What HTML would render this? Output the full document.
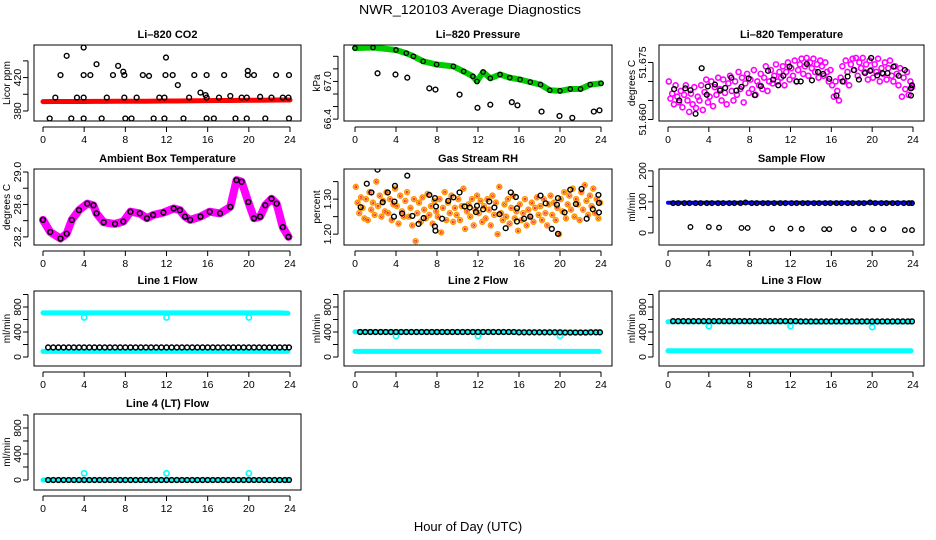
<!DOCTYPE html>
<html><head><meta charset="utf-8"><style>
html,body{margin:0;padding:0;background:#fff;}
svg{display:block;font-family:"Liberation Sans",sans-serif;}
</style></head><body>
<svg id="chart" width="936" height="540" viewBox="0 0 936 540" xmlns="http://www.w3.org/2000/svg">
<text x="470" y="14" text-anchor="middle" font-size="13" textLength="222" lengthAdjust="spacingAndGlyphs">NWR_120103  Average Diagnostics</text>
<text x="468" y="531" text-anchor="middle" font-size="13">Hour of Day (UTC)</text>
</svg>
<script>
// ---------- data ----------
const hourTicks = [0,4,8,12,16,20,24];
const hours25 = [0,1,2,3,4,5,6,7,8,9,10,11,12,13,14,15,16,17,18,19,20,21,22,23,24];
const co2Red = [391.2,391.3,391.3,391.4,391.4,391.5,391.5,391.6,391.6,391.7,391.7,391.8,391.9,392,392.1,392.3,392.4,392.5,392.6,392.7,392.8,392.9,393,393.1,393.2];
const co2Black = [[0.65,371],[1.2,396],[1.7,423],[2.3,446],[2.75,371],[3.3,396],[3.95,396],[3.95,456],[3.95,423],[3.95,371],[4.6,423],[5.2,436],[5.7,371],[6.2,396],[6.8,423],[7.3,434],[7.8,427],[7.9,423],[7.9,396],[8,371],[8.6,371],[9.1,396],[9.7,423],[10.3,422],[10.75,371],[11.3,396],[11.8,396],[11.95,444],[11.9,423],[11.8,371],[12.6,423],[13.1,411],[13.65,371],[14.2,396],[14.7,423],[15.3,402],[15.8,399],[15.9,396],[15.9,423],[15.9,371],[16.6,371],[17.1,396],[17.6,423],[18.2,398],[18.7,371],[19.3,396],[19.8,396],[19.9,428],[19.9,423],[19.8,371],[20.5,423],[21.1,397],[21.6,371],[22.2,396],[22.65,423],[23.3,396],[23.85,396],[23.9,423],[23.9,371]];
const presHours = [0,1.76,4,5,5.7,6.65,7.96,9.6,10.6,11.5,11.9,12.5,13.2,14.15,15.1,16.1,17.1,18.1,19,20,21,22,22.95,24];
const presGreen = [67.53,67.54,67.50,67.45,67.40,67.32,67.27,67.24,67.16,67.08,67.00,67.15,67.05,67.11,67.06,67.03,66.99,66.95,66.86,66.85,66.88,66.88,66.95,66.97];
const presBlack = [[2.2,67.13],[3.95,67.11],[5.1,67.06],[7.25,66.89],[7.85,66.87],[10.2,66.79],[11.95,66.58],[13.2,66.63],[15.3,66.67],[15.85,66.62],[18.2,66.52],[19.95,66.45],[21.2,66.42],[23.3,66.52],[23.85,66.54]];
const tempMagenta = [51.6700,51.6655,51.6668,51.6640,51.6690,51.6660,51.6645,51.6675,51.6632,51.6665,51.6690,51.6650,51.6620,51.6668,51.6640,51.6685,51.6630,51.6660,51.6650,51.6690,51.6625,51.6672,51.6705,51.6645,51.6660,51.6700,51.6635,51.6685,51.6665,51.6710,51.6680,51.6650,51.6705,51.6670,51.6640,51.6695,51.6715,51.6675,51.6650,51.6700,51.6665,51.6725,51.6680,51.6710,51.6645,51.6695,51.6720,51.6670,51.6705,51.6680,51.6730,51.6665,51.6700,51.6690,51.6720,51.6680,51.6710,51.6740,51.6675,51.6700,51.6730,51.6695,51.6715,51.6745,51.6700,51.6725,51.6710,51.6740,51.6690,51.6725,51.6750,51.6705,51.6735,51.6715,51.6755,51.6700,51.6730,51.6745,51.6760,51.6720,51.6740,51.6762,51.6715,51.6750,51.6735,51.6760,51.6725,51.6745,51.6710,51.6755,51.6740,51.6715,51.6750,51.6725,51.6700,51.6730,51.6690,51.6660,51.6700,51.6675,51.6650,51.6710,51.6740,51.6700,51.6755,51.6725,51.6690,51.6745,51.6760,51.6730,51.6762,51.6715,51.6750,51.6735,51.6762,51.6725,51.6745,51.6705,51.6755,51.6730,51.6710,51.6745,51.6725,51.6760,51.6700,51.6735,51.6720,51.6750,51.6705,51.6735,51.6755,51.6715,51.6700,51.6740,51.6720,51.6690,51.6735,51.6660,51.6710,51.6680,51.6725,51.6665,51.6700,51.6685];
const tempBlack = [[0.6,51.6680],[1.1,51.6650],[1.7,51.6682],[2.2,51.6677],[2.7,51.6615],[3.3,51.6735],[3.8,51.6665],[3.9,51.6687],[4.6,51.6692],[5.1,51.6676],[5.6,51.6683],[6.2,51.6710],[6.7,51.6676],[7.2,51.6686],[7.9,51.6708],[8.5,51.6664],[9.1,51.6688],[9.8,51.6728],[10.3,51.6705],[10.8,51.6690],[11.3,51.6715],[11.9,51.6739],[12.6,51.6700],[13.0,51.6700],[13.6,51.6746],[14.1,51.6703],[14.7,51.6725],[15.2,51.6720],[15.8,51.6707],[16.5,51.6663],[17.1,51.6700],[17.6,51.6713],[18.2,51.6730],[18.7,51.6705],[19.3,51.6722],[19.8,51.6728],[19.9,51.6762],[20.5,51.6716],[21.0,51.6722],[21.5,51.6722],[22.1,51.6739],[22.6,51.6715],[23.2,51.6730],[23.8,51.6682],[23.8,51.6663],[23.9,51.6690]];
const ambHours = [0,0.7,1.7,2.3,2.8,3.5,4.3,4.9,5.2,5.9,7,7.8,8.5,9.4,10.1,10.7,11.7,12.7,13.3,13.8,14.3,15.3,16.2,17.2,18.2,18.8,19.3,19.95,20.5,21.1,21.6,22.2,22.7,23.3,23.85];
const ambTemp = [28.41,28.26,28.18,28.24,28.41,28.53,28.61,28.59,28.49,28.38,28.36,28.39,28.51,28.49,28.43,28.47,28.50,28.55,28.53,28.45,28.41,28.45,28.51,28.49,28.57,28.90,28.88,28.63,28.43,28.45,28.59,28.67,28.61,28.32,28.20];
const rhCloud = [1.335,1.290,1.260,1.305,1.275,1.245,1.300,1.240,1.320,1.270,1.290,1.255,1.350,1.280,1.310,1.250,1.295,1.265,1.320,1.260,1.300,1.240,1.285,1.330,1.280,1.230,1.310,1.265,1.250,1.295,1.320,1.250,1.275,1.225,1.300,1.180,1.260,1.290,1.235,1.305,1.270,1.245,1.315,1.255,1.280,1.230,1.295,1.265,1.250,1.300,1.205,1.275,1.320,1.240,1.290,1.260,1.310,1.235,1.275,1.255,1.300,1.240,1.280,1.330,1.215,1.265,1.285,1.250,1.300,1.225,1.270,1.310,1.260,1.295,1.235,1.280,1.245,1.300,1.270,1.225,1.310,1.255,1.290,1.200,1.335,1.260,1.240,1.285,1.250,1.300,1.230,1.275,1.310,1.245,1.265,1.210,1.285,1.240,1.260,1.300,1.225,1.270,1.250,1.290,1.235,1.275,1.305,1.255,1.280,1.240,1.300,1.260,1.225,1.285,1.310,1.255,1.290,1.240,1.275,1.200,1.300,1.265,1.320,1.245,1.285,1.310,1.270,1.330,1.250,1.300,1.285,1.240,1.320,1.270,1.340,1.295,1.255,1.310,1.280,1.330,1.260,1.300,1.245,1.290];
const rhBlack = [[0.55,1.277],[1.15,1.344],[1.6,1.319],[2.2,1.384],[2.7,1.291],[3.2,1.319],[3.85,1.293],[3.9,1.338],[3.8,1.250],[4.6,1.259],[5.1,1.367],[5.6,1.252],[6.2,1.229],[6.7,1.246],[7.25,1.312],[7.8,1.303],[7.9,1.279],[7.8,1.222],[7.85,1.210],[8.5,1.244],[9.1,1.295],[9.6,1.305],[10.2,1.319],[10.7,1.279],[11.2,1.276],[11.8,1.263],[11.9,1.281],[12.5,1.271],[13.1,1.293],[13.6,1.276],[14.1,1.257],[14.7,1.217],[15.2,1.319],[15.7,1.306],[15.8,1.274],[15.8,1.236],[16.5,1.244],[17.1,1.250],[18.1,1.310],[18.6,1.288],[19.2,1.215],[19.7,1.284],[19.8,1.303],[19.8,1.201],[20.45,1.262],[21.0,1.327],[21.55,1.286],[22.1,1.329],[22.6,1.244],[23.2,1.271],[23.75,1.312],[23.8,1.289],[23.8,1.262]];
const sampleBlue = [97,97,97,97,97,97,97,97,97,97,97,97,97,97,97,97,97,97,97,97,97,97,97,97,97];
const sampleBlack = [[0.5,96],[1.0,96],[1.6,96],[2.1,96],[2.7,96],[3.2,96],[3.8,96],[4.3,96],[4.9,96],[5.4,96],[6.0,96],[6.5,96],[7.1,96],[7.6,98],[8.2,96],[8.7,96],[9.3,96],[9.8,96],[10.4,96],[11.0,96],[11.5,96],[12.1,96],[12.6,96],[13.2,96],[13.7,96],[14.3,96],[14.8,96],[15.4,96],[15.9,96],[16.5,96],[17.0,96],[17.6,96],[18.1,96],[18.7,96],[19.2,96],[19.8,98],[20.3,96],[20.9,96],[21.4,96],[22.0,96],[22.5,96],[23.1,96],[23.6,96],[23.9,96],[2.2,19],[4.0,19],[5.0,17],[7.2,16],[7.8,16],[10.2,14],[12.0,14],[13.1,13],[15.3,12],[15.8,12],[18.2,12],[20.0,12],[21.1,12],[23.2,9],[23.9,9]];
const flowHours = [0.5,1,1.5,2,2.5,3,3.5,4,4.5,5,5.5,6,6.5,7,7.5,8,8.5,9,9.5,10,10.5,11,11.5,12,12.5,13,13.5,14,14.5,15,15.5,16,16.5,17,17.5,18,18.5,19,19.5,20,20.5,21,21.5,22,22.5,23,23.5,24];
const dipHours = [4,12,20];
const line1Black = [153,153,153,153,153,153,153,153,153,153,153,153,153,153,153,153,153,153,153,153,153,153,153,153,153,153,153,153,153,153,153,153,153,153,153,153,153,153,153,153,153,153,153,153,153,153,153,153];
const line1CyanHigh = [705,705,705,705,705,705,705,705,705,705,705,705,705,705,705,705,705,705,705,705,705,705,705,705,700];
const line1CyanLow = [90,90,90,90,90,90,90,90,90,90,90,90,90,90,90,90,90,90,90,90,90,90,90,90,90];
const line1Dips = [632,632,632];
const line2Black = [400,400,400,400,400,400,400,400,400,400,400,400,400,400,400,400,400,400,400,400,400,400,400,400,400,400,400,400,400,400,400,395,395,395,395,395,395,395,395,395,392,392,392,392,392,395,395,395];
const line2CyanHigh = [405,403,403,403,403,403,403,403,403,403,403,403,403,403,400,400,400,400,398,398,398,398,398,398,400];
const line2CyanLow = [90,90,90,90,90,90,90,90,90,90,90,90,90,90,90,90,90,90,90,90,90,90,90,90,90];
const line2Dips = [337,337,337];
const line3Black = [574,574,574,574,574,574,574,574,574,574,574,574,574,574,574,574,574,574,574,574,574,574,574,574,574,570,570,570,570,570,570,570,570,570,570,570,570,570,570,570,570,570,570,570,570,570,570,570];
const line3CyanHigh = [563,563,563,563,563,563,563,563,563,563,563,563,563,563,560,560,560,560,560,560,560,560,560,560,560];
const line3CyanLow = [100,100,100,100,100,100,100,100,100,100,100,100,100,100,100,100,100,100,100,100,100,100,100,100,100];
const line3Dips = [495,495,478];
const line4Black = [0,0,0,0,0,0,0,0,0,0,0,0,0,0,0,0,0,0,0,0,0,0,0,0,0,0,0,0,0,0,0,0,0,0,0,0,0,0,0,0,0,0,0,0,0,0,0,0];
const line4Cyan = [0,0,0,0,0,0,0,0,0,0,0,0,0,0,0,0,0,0,0,0,0,0,0,0,0];
const line4Dips = [103,103,103];

// ---------- layout ----------
const NS = "http://www.w3.org/2000/svg";
const svg = document.getElementById('chart');
const COLS = [{l:34,r:301,x0:43,x24:290},{l:344,r:612,x0:355,x24:601},{l:659,r:924,x0:668,x24:913}];
const ROWS = [{t:45,b:121},{t:169,b:245},{t:291,b:366},{t:414,b:490}];
function mk(tag, attrs, parent){const e=document.createElementNS(NS,tag);for(const k in attrs)e.setAttribute(k,attrs[k]);(parent||svg).appendChild(e);return e;}
function panel(name,col,row,title,ylab,ymin,ymax,ticks,labels){
  const C=COLS[col],R=ROWS[row];
  const g=mk('g',{});
  
  
  const xs=h=>C.x0+(C.x24-C.x0)*h/24;
  const ys=v=>R.b-(v-ymin)/(ymax-ymin)*(R.b-R.t);
  const clip=mk('clipPath',{id:'clip-'+name},g);
  mk('rect',{x:C.l,y:R.t,width:C.r-C.l,height:R.b-R.t},clip);
  const plot=mk('g',{'clip-path':'url(#clip-'+name+')'},g);
  
  
  const box=mk('rect',{x:C.l,y:R.t,width:C.r-C.l,height:R.b-R.t,fill:'none',stroke:'#000','stroke-width':1},g);
  
  
  const tt=mk('text',{x:(C.l+C.r)/2,y:R.t-7,'text-anchor':'middle','font-size':11,'font-weight':'bold'},g);
  tt.textContent=title;
  
  
  const yt=mk('text',{transform:`translate(${C.l-24},${(R.t+R.b)/2}) rotate(-90)`,'text-anchor':'middle','font-size':10},g);
  yt.textContent=ylab;
  
  
  const xa=mk('g',{},g);
  
  
  mk('line',{x1:xs(0),x2:xs(24),y1:R.b+6,y2:R.b+6,stroke:'#000'},xa);
  hourTicks.forEach(h=>{
    mk('line',{x1:xs(h),x2:xs(h),y1:R.b+6,y2:R.b+11,stroke:'#000'},xa);
    const t=mk('text',{x:xs(h),y:R.b+22,'text-anchor':'middle','font-size':10.5},xa);
    t.textContent=h;
    
    
  });
  const ya=mk('g',{},g);
  
  
  mk('line',{x1:C.l-6,x2:C.l-6,y1:ys(ticks[0]),y2:ys(ticks[ticks.length-1]),stroke:'#000'},ya);
  ticks.forEach(v=>mk('line',{x1:C.l-11,x2:C.l-6,y1:ys(v),y2:ys(v),stroke:'#000'},ya));
  labels.forEach(lb=>{
    const t=mk('text',{transform:`translate(${C.l-13},${ys(parseFloat(lb))}) rotate(-90)`,'text-anchor':'middle','font-size':10.5},ya);
    t.textContent=lb;
    
    
  });
  return {xs,ys,plot};
}
function pts(P,pairs,color,r,sw,nm){
  const g=mk('g',{},P.plot);
  
  
  pairs.forEach(([h,v])=>{
    const c=mk('circle',{cx:P.xs(h),cy:P.ys(v),r:r,fill:'none',stroke:color,'stroke-width':sw},g);
    
  });
}
function thick(P,hs,vals,color,w,nm){
  const d=hs.map((h,i)=>(i?'L':'M')+P.xs(h).toFixed(1)+','+P.ys(vals[i]).toFixed(1)).join(' ');
  const p=mk('path',{d:d,fill:'none',stroke:color,'stroke-width':w,'stroke-linejoin':'round','stroke-linecap':'round'},P.plot);
  
  
}
const zip=(hs,vs)=>hs.map((h,i)=>[h,vs[i]]);
const cloudHours=n=>Array.from({length:n},(_,i)=>i*24/n+0.08);

// CO2
let P=panel('co2',0,0,'Li\u2013820 CO2','Licor ppm',368,459,[380,400,420,440],['380','420']);
thick(P,hours25,co2Red,'#f00',5,'co2-red-band');
pts(P,co2Black,'#000',2.4,1.4,'co2-black-points');
// Pressure
P=panel('pressure',1,0,'Li\u2013820 Pressure','kPa',66.37,67.58,[66.4,66.6,66.8,67.0,67.2,67.4],['66.4','67.0']);
thick(P,presHours,presGreen,'#0c0',6,'pressure-green-band');
pts(P,zip(presHours,presGreen),'#000',2.2,1.3,'pressure-black-on-line');
pts(P,presBlack,'#000',2.4,1.4,'pressure-black-points');
// Li-820 temperature
P=panel('li820-temp',2,0,'Li\u2013820 Temperature','degrees C',51.6596,51.6796,[51.660,51.665,51.670,51.675],['51.660','51.675']);
pts(P,zip(cloudHours(tempMagenta.length),tempMagenta),'#f0f',2.5,1.6,'temp-magenta-points');
pts(P,tempBlack,'#000',2.4,1.4,'temp-black-points');
// Ambient
P=panel('ambient',0,1,'Ambient Box Temperature','degrees C',28.10,29.037,[28.2,28.4,28.6,28.8,29.0],['28.2','28.6','29.0']);
thick(P,ambHours,ambTemp,'#f0f',8,'ambient-magenta-band');
pts(P,zip(ambHours,ambTemp),'#000',2.4,1.5,'ambient-black-points');
// RH
P=panel('rh',1,1,'Gas Stream RH','percent',1.169,1.386,[1.20,1.25,1.30,1.35],['1.20','1.30']);
pts(P,zip(cloudHours(rhCloud.length),rhCloud),'#f90',2.4,1.6,'rh-orange-points');
pts(P,zip(cloudHours(rhCloud.length),rhCloud),'#f00',0.9,0.8,'rh-red-centers');
pts(P,rhBlack,'#000',2.4,1.4,'rh-black-points');
// Sample flow
P=panel('sample-flow',2,1,'Sample Flow','ml/min',-39,206,[0,50,100,150,200],['0','100','200']);
thick(P,hours25.map(h=>Math.min(h,23.9)),sampleBlue,'#00f',4,'sample-blue-band');
pts(P,sampleBlack,'#000',2.3,1.3,'sample-black-points');
// Line flows
const flowTicks=[0,200,400,600,800,1000], flowLabels=['0','400','800'];
function flowPanel(name,col,row,title,ymin,ymax,black,hi,lo,dips){
  const P=panel(name,col,row,title,'ml/min',ymin,ymax,flowTicks,flowLabels);
  const hh=hours25.map(h=>Math.min(h,23.8));
  if(hi)thick(P,hh,hi,'#0ff',5,name+'-cyan-high');
  if(lo)thick(P,hh,lo,'#0ff',5,name+'-cyan-low');
  pts(P,zip(dipHours,dips),'#0ff',2.6,1.6,name+'-cyan-dips');
  pts(P,zip(flowHours.map(h=>Math.min(h,23.9)),black),'#000',2.4,1.5,name+'-black-points');
}
flowPanel('line1-flow',0,2,'Line 1 Flow',-144,1056,line1Black,line1CyanHigh,line1CyanLow,line1Dips);
flowPanel('line2-flow',1,2,'Line 2 Flow',-144,1056,line2Black,line2CyanHigh,line2CyanLow,line2Dips);
flowPanel('line3-flow',2,2,'Line 3 Flow',-144,1056,line3Black,line3CyanHigh,line3CyanLow,line3Dips);
flowPanel('line4-flow',0,3,'Line 4 (LT) Flow',-154,1015,line4Black,line4Cyan,null,line4Dips);
</script>
</body></html>
